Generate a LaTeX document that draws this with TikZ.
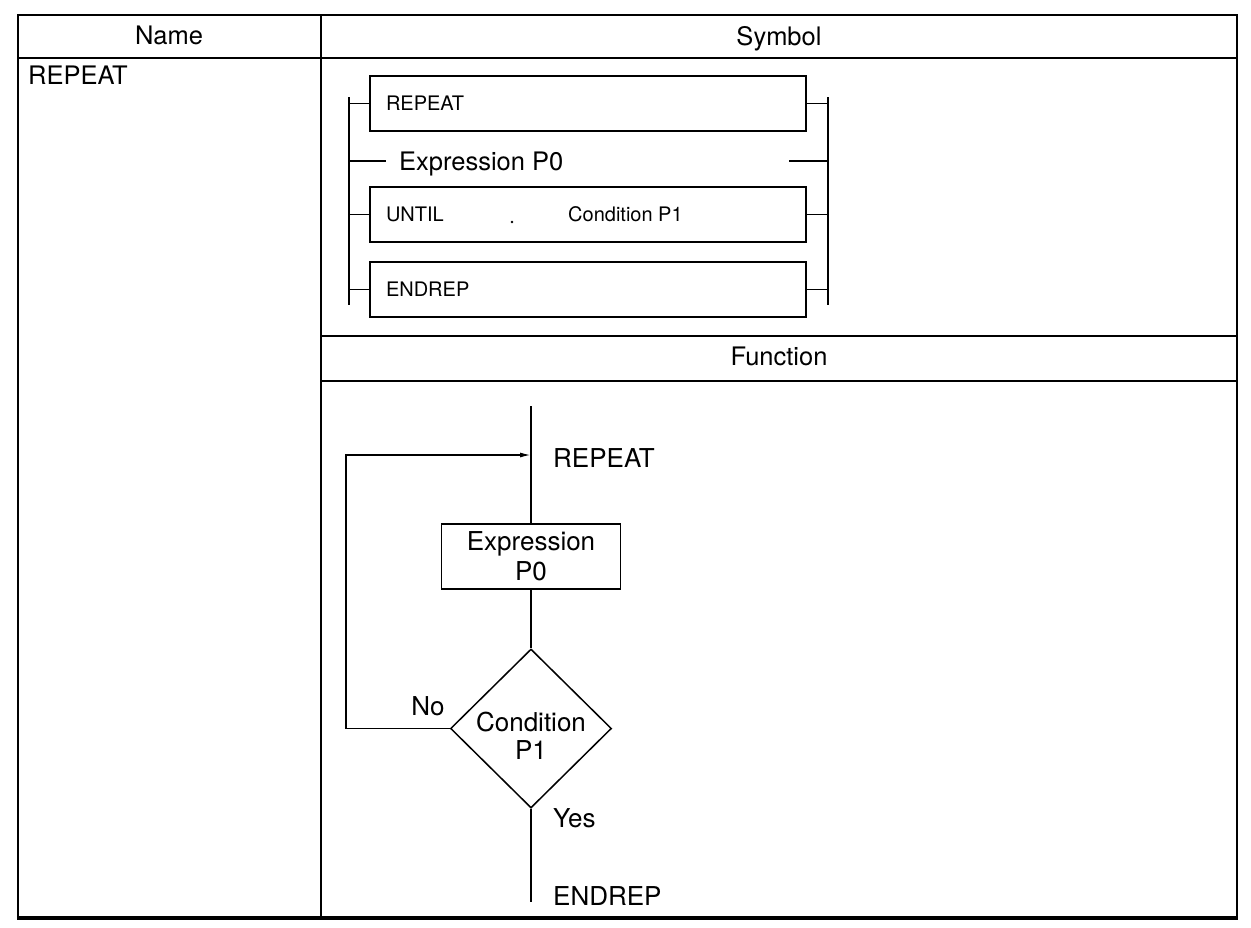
\documentclass[tikz,border=0pt]{standalone}
\usepackage{fontspec}
\setmainfont{TeX Gyre Heros}
\usetikzlibrary{arrows.meta,shapes.geometric}
\begin{document}
\begin{tikzpicture}[x=1pt,y=-1pt,
  lbl/.style={font=\fontsize{25.5}{30}\selectfont, inner sep=0pt},
  flbl/.style={font=\fontsize{26}{30}\selectfont, inner sep=0pt},
  sml/.style={font=\fontsize{20}{24}\selectfont, inner sep=0pt},
  tabline/.style={line width=2pt},
  symbox/.style={draw, line width=2pt, minimum width=436pt, minimum height=55pt,
     text width=404pt, inner xsep=16pt, inner ysep=0pt, align=left,
     font=\fontsize{20}{24}\selectfont},
  bracket/.style={line width=1.8pt},
  flow/.style={line width=1.5pt},
  fbox/.style={draw, line width=1.5pt, minimum width=179pt, minimum height=65pt,
     inner sep=0pt, align=center, font=\fontsize{26}{30}\selectfont},
  dia/.style={draw, diamond, line width=1.5pt, minimum width=161pt,
     minimum height=159pt, inner sep=0pt}
]
\useasboundingbox (0,0) rectangle (1251,927);
\fill[white] (0,0) rectangle (1251,927);

% ---------- table ----------
\draw[line width=2.5pt] (18,918) -- (18,15) -- (1237,15) -- (1237,918);
\draw[line width=3.5pt] (16.75,918) -- (1238.25,918);
\draw[tabline] (18,58) -- (1237,58);
\draw[line width=1.8pt] (321,15) -- (321,918);
\draw[tabline] (321,336) -- (1237,336);
\draw[tabline] (321,381) -- (1237,381);

\node[lbl, anchor=base] (hname) at (169,44) {Name};
\node[lbl, anchor=base] (hsym) at (779,45) {Symbol};
\node[lbl, anchor=base] (hfun) at (779,365) {Function};
\node[lbl, anchor=base west] (nrep) at (28,84) {REPEAT};

% ---------- symbol ----------
\coordinate (lbt) at (349,97);
\coordinate (lbb) at (349,305);
\coordinate (rbt) at (828,97);
\coordinate (rbb) at (828,305);
\draw[bracket] (lbt) -- (lbb);
\draw[bracket] (rbt) -- (rbb);

\node[symbox, anchor=north west] (srep) at (369,75) {REPEAT};
\node[symbox, anchor=north west] (suntil) at (369,186) {UNTIL};
\node[symbox, anchor=north west] (send) at (369,261) {ENDREP};

\draw[bracket] (srep.west -| lbt) -- (srep.west);
\draw[bracket] (srep.east) -- (srep.east -| rbt);
\draw[bracket] (suntil.west -| lbt) -- (suntil.west);
\draw[bracket] (suntil.east) -- (suntil.east -| rbt);
\draw[bracket] (send.west -| lbt) -- (send.west);
\draw[bracket] (send.east) -- (send.east -| rbt);

\node[lbl, anchor=base west] (sexpr) at (399,170) {Expression P0};
\coordinate (el1) at (349,161);
\coordinate (el2) at (386,161);
\coordinate (er1) at (789,161);
\coordinate (er2) at (828,161);
\draw[bracket] (el1) -- (el2);
\draw[bracket] (er1) -- (er2);

\node[sml, anchor=base west] (scond) at (568,221) {Condition P1};
\fill (512,222) circle (1.3pt);

% ---------- function ----------
\coordinate (ftop) at (531,406);
\coordinate (join) at (531,455);
\node[fbox] (fexpr) at (531,556.5) {Expression\\P0};
\node[dia] (fcond) at (531,728.5) {};
\node[flbl, align=center, font=\fontsize{26}{28}\selectfont] (fcondt) at (531,736) {Condition\\P1};
\coordinate (fbot) at (531,902);
\coordinate (loopb) at (346,728.5);
\coordinate (loopt) at (346,455);

\draw[flow] (ftop) -- (fexpr.north);
\draw[flow] (fexpr.south) -- (fcond.north);
\draw[flow] (fcond.south) -- (fbot);
\draw[flow, -{Latex[length=11pt,width=5pt]}] (fcond.west) -- (loopb) -- (loopt) -- (join);

\node[flbl, anchor=base west] (frep) at (553,467) {REPEAT};
\node[flbl, anchor=base] (fno) at (428,715) {No};
\node[flbl, anchor=base west] (fyes) at (553,827) {Yes};
\node[flbl, anchor=base west] (fend) at (553,905) {ENDREP};
\end{tikzpicture}
\end{document}
